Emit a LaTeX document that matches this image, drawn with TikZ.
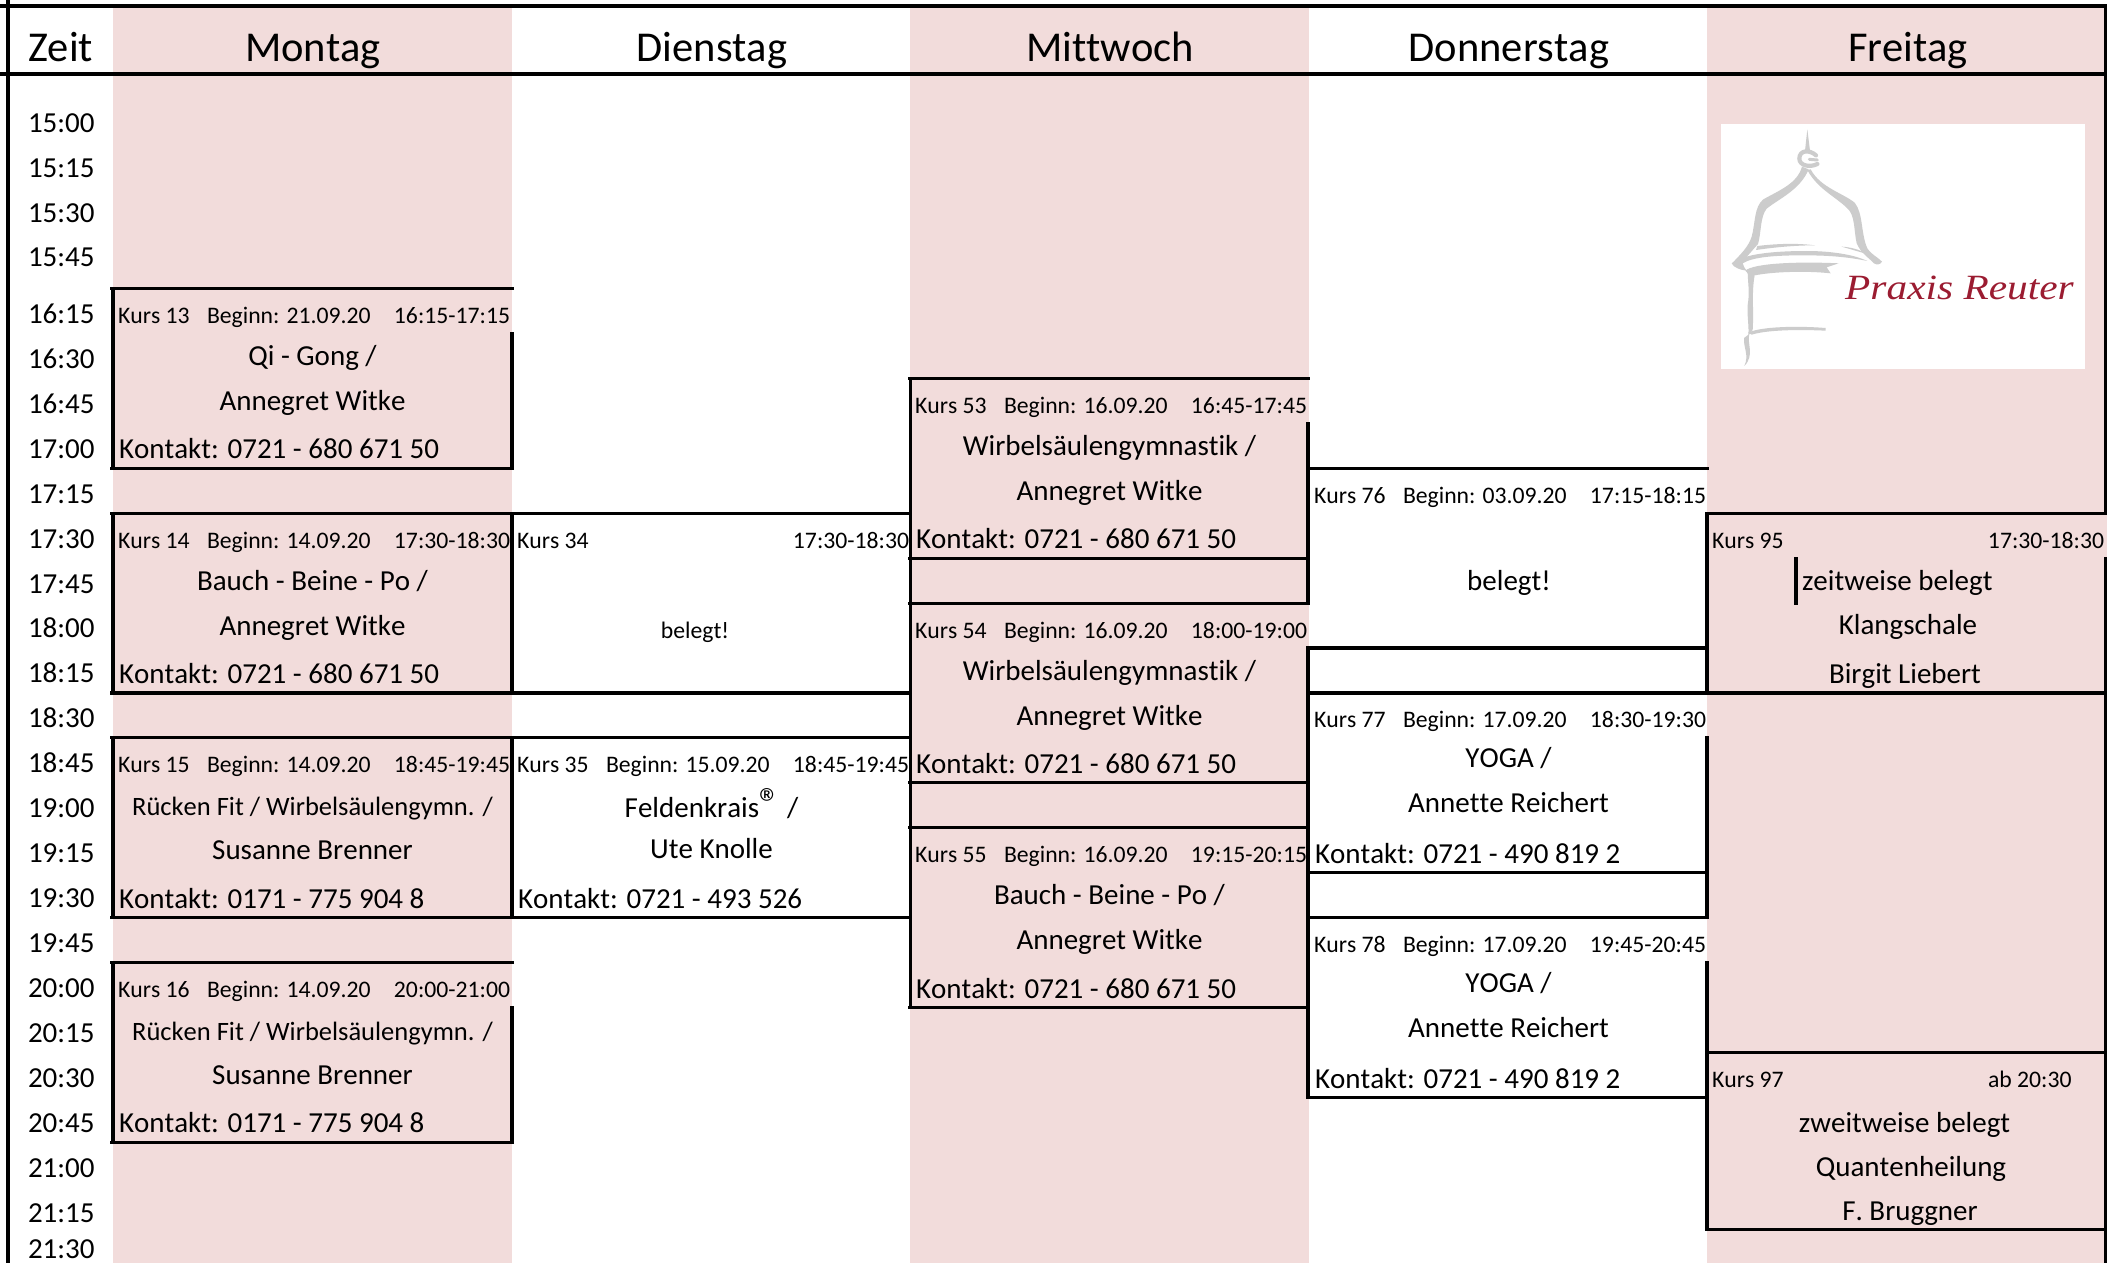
\documentclass[tikz,border=0pt]{standalone}
\usepackage{fontspec}
\usepackage{graphicx}
\setmainfont[Ligatures=NoCommon,Kerning=Off]{Carlito}
\newfontfamily\logofont{Liberation Serif}
\definecolor{band}{HTML}{F2DCDB}
\definecolor{logored}{HTML}{9B1C31}
\definecolor{logogray}{HTML}{CCCCCC}
\newcommand{\fsH}{\fontsize{42.5}{44}\selectfont}
\newcommand{\fsL}{\fontsize{29}{31}\selectfont}
\newcommand{\fsM}{\fontsize{26.5}{28}\selectfont}
\newcommand{\fsS}{\fontsize{23.7}{25}\selectfont}
\tikzset{
  rule/.style={line width=3.1pt,line cap=rect,black},
  bandfill/.style={fill=band,draw=none},
  txt/.style={inner sep=0pt,outer sep=0pt,text=black,font=\fsL},
  small/.style={txt,font=\fsS},
  lft/.style={anchor=base west},
  rgt/.style={anchor=base east},
  mid/.style={anchor=base},
}
% horizontal and vertical rules on the time grid
\newcommand{\hl}[3]{\draw[rule] ({#1},{ry(#3)}) -- ({#2},{ry(#3)});}
\newcommand{\vl}[3]{\draw[rule] ({#1},{ry(#2)}) -- ({#1},{ry(#3)});}
% head line of a course: name, column x, top row, course, start, time
\newcommand{\khead}[6]{%
  \node[small,lft] (#1a) at ({#2+5},{ry(#3)+35}) {#4};
  \node[small,lft] (#1b) at ({#2+94},{ry(#3)+35}) {#5};
  \node[small,rgt] (#1c) at ({#2+397},{ry(#3)+35}) {#6};}
% body of a course: name, column x, top row, line 1, line 2, contact, offset 1, offset 2
\newcommand{\kbody}[8]{%
  \node[txt,mid] (#1d) at ({#2+199.5},{ry(#3)+#7}) {#4};
  \node[txt,mid] (#1e) at ({#2+199.5},{ry(#3)+#8}) {#5};
  \node[txt,lft] (#1f) at ({#2+6},{ry(#3+4)-9.5}) {#6};}
\newcommand{\tlabel}[3]{\node[txt,lft] (#1) at (28,#2) {#3};}
\begin{document}
\begin{tikzpicture}[x=1pt,y=-1pt,declare function={ry(\k)=288.4+44.95*\k;}]
\useasboundingbox (0,0) rectangle (2107,1263);
\fill[white] (0,0) rectangle (2107,1263);
% day bands
\path[bandfill] (113,7) rectangle (512,1263);
\path[bandfill] (910,7) rectangle (1309,1263);
\path[bandfill] (1707,7) rectangle (2107,1263);
% logo panel
\fill[white] (1721,124) rectangle (2085,369);
\begin{scope}[shift={(1680,100)},x=0.33333pt,y=-0.33333pt,line cap=round]
  \fill[logogray] (382,88) -- (375,152) -- (390,152) -- cycle;
  \draw[logogray,line width=4.2pt] (408,166) .. controls (388,148) and (358,150) .. (358,176) .. controls (358,196) and (388,204) .. (412,192);
  \draw[logogray,line width=3pt] (388,178) -- (412,180);
  \fill[logogray] (366,200) .. controls (352,250) and (300,270) .. (250,298) .. controls (222,320) and (226,370) .. (215,410) .. controls (206,440) and (180,465) .. (156,490) -- (190,482) -- (234,432) .. controls (244,400) and (240,350) .. (260,326) .. controls (297,296) and (360,270) .. (386,208) -- cycle;
  \fill[logogray] (392,208) .. controls (420,262) and (490,280) .. (524,308) .. controls (550,340) and (542,400) .. (562,445) .. controls (575,465) and (592,470) .. (606,485) .. controls (600,495) and (590,495) .. (582,490) .. controls (565,472) and (543,460) .. (530,430) .. controls (521,390) and (526,345) .. (501,324) .. controls (466,290) and (412,266) .. (382,210) -- cycle;
  \fill[logogray] (232,438) .. controls (290,431) and (350,429) .. (405,436) .. controls (350,436) and (290,441) .. (228,450) -- cycle;
  \fill[logogray] (485,440) .. controls (510,441) and (540,449) .. (562,462) .. controls (535,455) and (510,447) .. (485,440) -- cycle;
  \fill[logogray] (155,490) .. controls (190,462) and (280,453) .. (380,453) .. controls (450,453) and (520,463) .. (562,483) .. controls (500,470) and (440,466) .. (370,466) .. controls (290,466) and (220,470) .. (188,490) .. controls (190,500) and (195,505) .. (200,512) .. controls (180,510) and (160,502) .. (155,490) -- cycle;
  \fill[logogray] (196,512) .. controls (220,490) and (350,484) .. (476,490) -- (440,502) -- (452,520) .. controls (380,512) and (280,515) .. (225,526) -- (205,522) -- cycle;
  \fill[logogray] (203,518) -- (224,526) .. controls (214,580) and (222,630) .. (218,690) -- (205,706) .. controls (208,670) and (198,640) .. (205,600) .. controls (208,570) and (204,550) .. (203,518) -- cycle;
  \fill[logogray] (205,698) .. controls (240,680) and (350,677) .. (437,684) -- (437,692) .. controls (350,688) and (260,690) .. (215,704) -- cycle;
  \fill[logogray] (192,714) -- (208,702) .. controls (200,730) and (225,765) .. (193,798) .. controls (208,765) and (190,745) .. (192,714) -- cycle;
\end{scope}
\node[anchor=base west,inner sep=0pt,text=logored] (logotext) at (1845,299) {\scalebox{1.165}[1]{\logofont\itshape\fontsize{35.5}{36}\selectfont Praxis Reuter}};
% frame
\draw[rule] (0,6) -- (2107,6);
\draw[rule] (0,74) -- (2107,74);
\draw[rule] (8,0) -- (8,1263);
\draw[rule] (2105.5,6) -- (2105.5,{ry(5)});
\draw[rule] (2105.5,{ry(6)}) -- (2105.5,1263);
% headers
\node[txt,font=\fsH,anchor=base west] (hzeit) at (28,62) {Zeit};
\node[txt,font=\fsH,mid] (hmo) at (313,62) {Montag};
\node[txt,font=\fsH,mid] (hdi) at (712,62) {Dienstag};
\node[txt,font=\fsH,mid] (hmi) at (1110,62) {Mittwoch};
\node[txt,font=\fsH,mid] (hdo) at (1509,62) {Donnerstag};
\node[txt,font=\fsH,mid] (hfr) at (1908,62) {Freitag};
% time labels
\tlabel{t1500}{132.5}{15:00}
\tlabel{t1515}{177}{15:15}
\tlabel{t1530}{222}{15:30}
\tlabel{t1545}{266}{15:45}
\foreach \t [count=\i from 0] in {16:15,16:30,16:45,17:00,17:15,17:30,17:45,18:00,18:15,18:30,18:45,19:00,19:15,19:30,19:45,20:00,20:15,20:30,20:45,21:00,21:15}
  {\node[txt,lft] (tr\i) at (28,{323.3+44.95*\i}) {\t};}
\tlabel{t2130}{1258}{21:30}
% rules: Montag
\foreach \k in {0,4,5,9,10,14,15,19} {\hl{112}{512}{\k}}
\vl{113}{0}{4} \vl{113}{5}{9} \vl{113}{10}{14} \vl{113}{15}{19}
\vl{512}{1}{4} \vl{512}{5}{9} \vl{512}{10}{14} \vl{512}{16}{19}
% rules: Dienstag
\foreach \k in {5,9,10,14} {\hl{512}{910}{\k}}
\vl{910.5}{2}{16}
% rules: Mittwoch
\foreach \k in {2,6,7,11,12,16} {\hl{910}{1308}{\k}}
\vl{1308}{3}{7} \vl{1308}{8}{18}
% rules: Donnerstag
\foreach \k in {4,8,9,13,14,18} {\hl{1308}{1707}{\k}}
\vl{1707}{5}{9} \vl{1707}{10}{14} \vl{1707}{15}{20.93}
% rules: Freitag
\foreach \k in {5,9,17,20.93} {\hl{1707}{2107}{\k}}
\vl{1796}{6}{7}
% Montag
\khead{k13}{113}{0}{Kurs 13}{Beginn: 21.09.20}{16:15-17:15}
\kbody{k13}{113}{0}{Qi - Gong /}{Annegret Witke}{Kontakt: 0721 - 680 671 50}{77}{122}
\khead{k14}{113}{5}{Kurs 14}{Beginn: 14.09.20}{17:30-18:30}
\kbody{k14}{113}{5}{Bauch - Beine - Po /}{Annegret Witke}{Kontakt: 0721 - 680 671 50}{77}{122}
\khead{k15}{113}{10}{Kurs 15}{Beginn: 14.09.20}{18:45-19:45}
\kbody{k15}{113}{10}{\fsM Rücken Fit / Wirbelsäulengymn. /}{Susanne Brenner}{Kontakt: 0171 - 775 904 8}{77.5}{122}
\khead{k16}{113}{15}{Kurs 16}{Beginn: 14.09.20}{20:00-21:00}
\kbody{k16}{113}{15}{\fsM Rücken Fit / Wirbelsäulengymn. /}{Susanne Brenner}{Kontakt: 0171 - 775 904 8}{77.5}{122}
% Dienstag
\node[small,lft] (k34a) at (517,548) {Kurs 34};
\node[small,rgt] (k34c) at (909,548) {17:30-18:30};
\node[small,mid] (k34d) at (695,638) {belegt!};
\khead{k35}{512}{10}{Kurs 35}{Beginn: 15.09.20}{18:45-19:45}
\kbody{k35}{512}{10}{Feldenkrais{\fontsize{42}{42}\selectfont ®} /}{Ute Knolle}{Kontakt: 0721 - 493 526}{80}{121}
% Mittwoch
\khead{k53}{910}{2}{Kurs 53}{Beginn: 16.09.20}{16:45-17:45}
\kbody{k53}{910}{2}{Wirbelsäulengymnastik /}{Annegret Witke}{Kontakt: 0721 - 680 671 50}{77}{122}
\khead{k54}{910}{7}{Kurs 54}{Beginn: 16.09.20}{18:00-19:00}
\kbody{k54}{910}{7}{Wirbelsäulengymnastik /}{Annegret Witke}{Kontakt: 0721 - 680 671 50}{77}{122}
\khead{k55}{910}{12}{Kurs 55}{Beginn: 16.09.20}{19:15-20:15}
\kbody{k55}{910}{12}{Bauch - Beine - Po /}{Annegret Witke}{Kontakt: 0721 - 680 671 50}{77}{122}
% Donnerstag
\khead{k76}{1309}{4}{Kurs 76}{Beginn: 03.09.20}{17:15-18:15}
\node[txt,mid] (k76d) at (1509,590) {belegt!};
\khead{k77}{1309}{9}{Kurs 77}{Beginn: 17.09.20}{18:30-19:30}
\kbody{k77}{1309}{9}{YOGA /}{Annette Reichert}{Kontakt: 0721 - 490 819 2}{75}{120}
\khead{k78}{1309}{14}{Kurs 78}{Beginn: 17.09.20}{19:45-20:45}
\kbody{k78}{1309}{14}{YOGA /}{Annette Reichert}{Kontakt: 0721 - 490 819 2}{75}{120}
% Freitag
\node[small,lft] (k95a) at (1712,548) {Kurs 95};
\node[small,rgt] (k95c) at (2104,548) {17:30-18:30};
\node[txt,lft] (k95d) at (1802,590) {zeitweise belegt};
\node[txt,mid] (k95e) at (1908,634) {Klangschale};
\node[txt,mid] (k95f) at (1905,683) {Birgit Liebert};
\node[small,lft] (k97a) at (1712,1087) {Kurs 97};
\node[small,lft] (k97c) at (1988,1087) {ab 20:30};
\node[txt,mid] (k97d) at (1904.5,1132) {zweitweise belegt};
\node[txt,mid] (k97e) at (1911,1176) {Quantenheilung};
\node[txt,mid] (k97f) at (1910,1220) {F. Bruggner};
\end{tikzpicture}
\end{document}
